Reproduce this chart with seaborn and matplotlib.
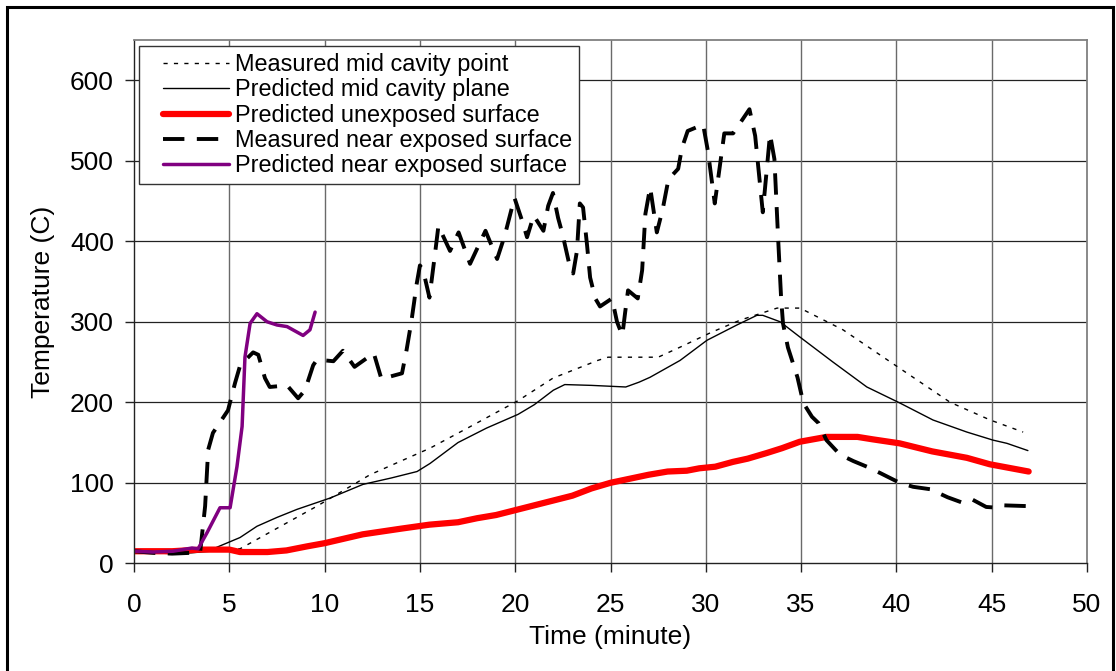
import matplotlib
matplotlib.use("Agg")
import numpy as np
import matplotlib.pyplot as plt
import seaborn as sns
from matplotlib.patches import Rectangle
from matplotlib.lines import Line2D
from matplotlib.legend_handler import HandlerLine2D

# ---------------- data ----------------
t_mid_meas = [0, 3.0, 5.56, 9.6, 12.38, 15.53, 17.5, 20.15, 21.98, 24.33, 24.87, 27.5,
              28.7, 30.3, 31.8, 33.74, 34.94, 37.2, 40.19, 42.82, 44.92, 46.65]
T_mid_meas = [15, 15, 18, 71, 110, 143, 168, 202, 230, 252, 256, 256,
              269, 287, 302, 317, 317, 290, 242, 200, 178, 163]

t_mid_pred = [0, 1, 2, 3, 4, 4.35, 5.56, 6.45, 7.5, 8.55, 10.28, 12.01, 13.5, 14.85, 15.53,
              17.0, 18.5, 20.15, 21.0, 22.0, 22.6, 24.0, 25.8, 26.5, 27.07, 28.65, 30.06,
              31.63, 32.68, 32.99, 33.9, 34.94, 36.67, 38.45, 40.19, 41.92, 43.7, 45.07,
              45.8, 46.9]
T_mid_pred = [15, 13, 12, 13, 15, 20, 32, 46, 57, 67, 81, 98, 106, 114, 124,
              150, 168, 185, 197, 215, 222, 221, 219, 225, 231, 252, 277,
              296, 308, 308, 300, 281, 250, 219, 199, 178, 163, 153,
              149, 140]

t_unexp = [0, 2, 3.5, 5.0, 5.56, 7.0, 8.0, 9.07, 10, 12, 14, 15.5, 17, 18, 19, 20, 21,
           22, 23, 24, 25, 26, 27, 28, 29, 29.66, 30.5, 31.43, 32.2, 33.2, 34, 34.93,
           36.33, 37.96, 38.75, 40.17, 41.88, 43.7, 44.9, 46.94]
T_unexp = [15, 15, 17, 17, 14, 14, 16, 21, 25, 36, 43, 48, 51, 56, 60, 66, 72,
           78, 84, 93, 100, 105, 110, 114, 115, 118, 120, 126, 130, 137, 143, 151,
           157, 157, 154, 149, 139, 131, 123, 114]

t_near_meas = [0, 1, 2, 3, 3.47, 3.73, 3.89, 4.14, 4.93, 5.3, 5.57, 6.25, 6.52, 6.87,
               7.12, 8.03, 8.61, 8.97, 9.4, 9.6, 10.46, 10.96, 11.57, 12.58, 12.98,
               14.06, 14.3, 14.55, 14.7, 14.8, 15.0, 15.17, 15.5, 15.8, 15.97, 16.58,
               17.03, 17.63, 18.44, 19.05, 19.45, 19.96, 20.41, 20.62, 20.97, 21.48,
               21.73, 21.98, 22.25, 22.48, 22.89, 23.04, 23.24, 23.39, 23.56, 23.77,
               23.93, 24.2, 24.45, 25.08, 25.34, 25.62, 25.77, 25.92, 26.43, 26.66,
               26.83, 27.08, 27.43, 27.74, 28.04, 28.55, 28.75, 29.05, 29.86, 30.11,
               30.47, 30.97, 31.43, 32.29, 32.59, 32.99, 33.37, 33.6, 33.8, 33.95,
               34.05, 34.31, 34.81, 35.12, 35.57, 35.92, 36.33, 37.04, 37.74, 38.45,
               39.16, 40.17, 40.88, 41.78, 42.69, 43.5, 44.0, 44.71, 45.32, 45.62, 46.94]
T_near_meas = [15, 13, 12, 13, 14, 71, 141, 162, 190, 224, 246, 262, 259, 230,
               219, 221, 205, 215, 246, 253, 251, 264, 244, 261, 229,
               236, 265, 300, 325, 343, 370, 364, 330, 386, 419, 388,
               411, 372, 413, 378, 407, 454, 422, 405, 432, 413,
               444, 460, 429, 409, 366, 360, 388, 447, 442, 395,
               355, 329, 319, 329, 300, 283, 312, 339, 329, 364,
               434, 467, 411, 440, 477, 490, 516, 537, 545, 512,
               447, 534, 534, 564, 531, 436, 533, 502, 401, 330,
               298, 268, 231, 199, 182, 174, 153, 135, 127, 120,
               112, 100, 95, 92, 82, 75, 79, 70, 69, 72, 71]

t_near_pred = [0, 1, 2.05, 3.04, 3.36, 3.83, 4.51, 5.04, 5.4, 5.67, 5.82, 6.09, 6.45,
               6.98, 7.5, 8.03, 8.87, 9.23, 9.5]
T_near_pred = [15, 14, 15, 19, 18, 38, 69, 69, 120, 170, 256, 298, 310,
               300, 296, 294, 283, 290, 312]

labels = ["Measured mid cavity point", "Predicted mid cavity plane",
          "Predicted unexposed surface", "Measured near exposed surface",
          "Predicted near exposed surface"]
x_ticks = [0, 5, 10, 15, 20, 25, 30, 35, 40, 45, 50]
y_ticks = [0, 100, 200, 300, 400, 500, 600]


class OffsetLineHandler(HandlerLine2D):
    """Legend line drawn with an empty margin on its left side."""
    def __init__(self, left_pts, **kw):
        super().__init__(**kw)
        self.left_pts = left_pts

    def get_xdata(self, legend, xdescent, ydescent, width, height, fontsize):
        xd = np.linspace(-xdescent + self.left_pts, -xdescent + width, 2)
        return xd, xd


# ---------------- plot ----------------
sns.set_theme(style="white")
plt.rcParams['font.family'] = ['Liberation Sans', 'DejaVu Sans']
plt.rcParams['text.color'] = 'black'
plt.rcParams['axes.labelcolor'] = 'black'

fig = plt.figure(figsize=(11.16, 6.71), dpi=100)
ax = fig.add_axes([0.1201, 0.1605, 0.8539, 0.7799])

sns.lineplot(x=t_mid_meas, y=T_mid_meas, ax=ax, color="black", lw=1.0,
             linestyle=(0, (3, 4.5)), label=labels[0], sort=False, estimator=None)
sns.lineplot(x=t_mid_pred, y=T_mid_pred, ax=ax, color="black", lw=1.0,
             label=labels[1], sort=False, estimator=None)
sns.lineplot(x=t_unexp, y=T_unexp, ax=ax, color="#FF0000", lw=4.5,
             label=labels[2], sort=False, estimator=None, solid_capstyle="round")
sns.lineplot(x=t_near_meas, y=T_near_meas, ax=ax, color="black", lw=2.8,
             linestyle=(0, (5.5, 3.2)), label=labels[3], sort=False,
             estimator=None)
sns.lineplot(x=t_near_pred, y=T_near_pred, ax=ax, color="#800080", lw=2.5,
             label=labels[4], sort=False, estimator=None)

ax.set_xlim(0, 50)
ax.set_ylim(0, 650)
ax.set_xticks(x_ticks)
ax.set_yticks(y_ticks)
ax.set_xticklabels([str(v) for v in x_ticks])
ax.set_yticklabels([str(v) for v in y_ticks])

for v in y_ticks[1:]:
    ax.axhline(v, color="#222222", lw=0.9, zorder=0.5)
for v in x_ticks[1:-1]:
    ax.axvline(v, color="#6a6a6a", lw=1.0, zorder=0.5)

for side in ["top", "right"]:
    ax.spines[side].set_color("#808080")
    ax.spines[side].set_linewidth(1.3)
for side in ["left", "bottom"]:
    ax.spines[side].set_color("#222222")
    ax.spines[side].set_linewidth(1.0)

ax.tick_params(axis="both", which="major", direction="out", length=6.5, width=1.0,
               color="#222222", labelsize=19, labelcolor="black")
ax.tick_params(axis="x", pad=15)
ax.tick_params(axis="y", pad=8)
ax.xaxis.set_ticks_position("bottom")
ax.yaxis.set_ticks_position("left")

ax.set_xlabel("Time (minute)", fontsize=19, labelpad=6, color="black")
ax.set_ylabel("Temperature (C)", fontsize=19, labelpad=11, color="black")

leg_fs = 16.9
handles, _ = ax.get_legend_handles_labels()
leg = ax.legend(handles, labels, loc="upper left", bbox_to_anchor=(0.005, 0.9885),
                borderaxespad=0, fontsize=leg_fs, frameon=True, fancybox=False,
                framealpha=1, edgecolor="#333333", handlelength=3.55,
                handletextpad=0.25, labelspacing=0.1, borderpad=0.3,
                labelcolor="black",
                handler_map={Line2D: OffsetLineHandler(left_pts=12)})
leg.get_frame().set_linewidth(1.0)

fig.patches.append(Rectangle((7 / 1116, -0.02), 1106 / 1116, (671 - 7) / 671 + 0.02,
                             transform=fig.transFigure, fill=False,
                             edgecolor="black", lw=2.2))

fig.savefig("out.png", dpi=100)
